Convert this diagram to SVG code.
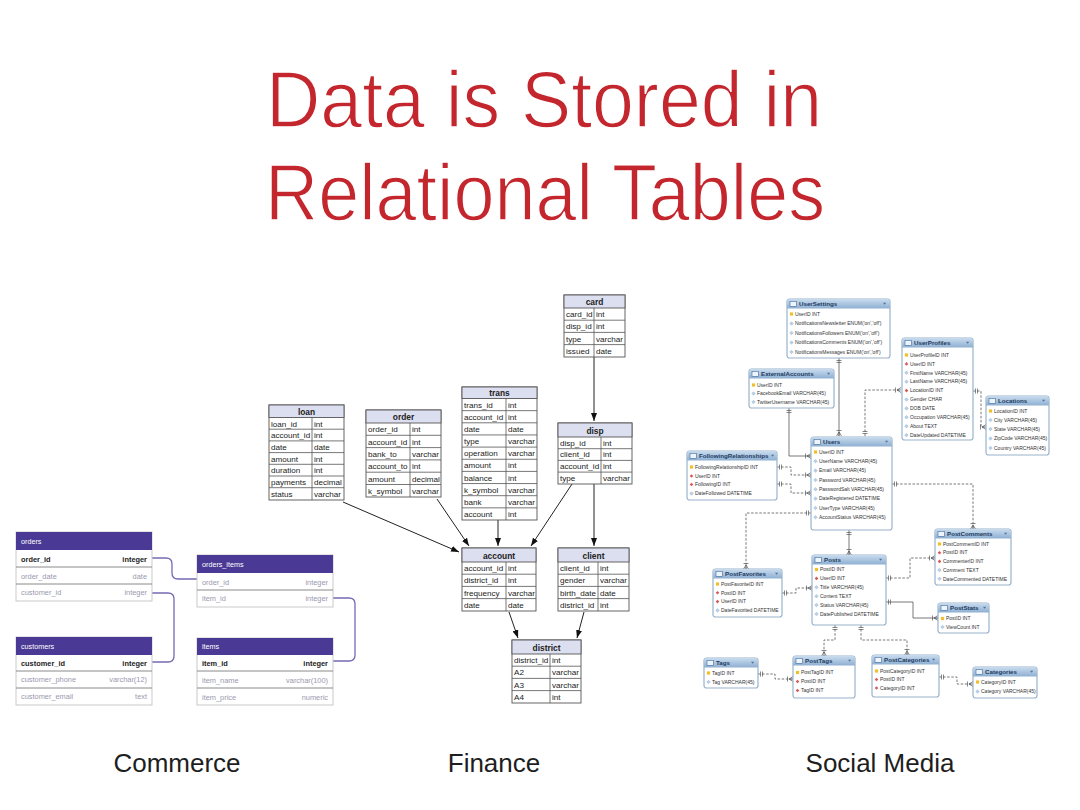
<svg xmlns="http://www.w3.org/2000/svg" xmlns:xlink="http://www.w3.org/1999/xlink" width="1080" height="810" viewBox="0 0 1080 810">
<style>
.title{font-family:"Liberation Sans",Arial,sans-serif;font-size:80px;fill:#c4262e;stroke:#fff;stroke-width:1.4px;}
.lbl{font-family:"Liberation Sans",Arial,sans-serif;font-size:26px;fill:#1e1e1e;text-anchor:middle;}
.ct{fill:#fff;stroke:#c9c9c9;stroke-width:1;}
.chd{fill:#4b3a95;}
.cht{font-family:"Liberation Sans",Arial,sans-serif;font-size:7.2px;fill:#fff;}
.csep{stroke:#7d7d7d;stroke-width:0.9;fill:none;}
.ck{font-family:"Liberation Sans",Arial,sans-serif;font-size:7.4px;fill:#222;font-weight:bold;}
.cn{font-family:"Liberation Sans",Arial,sans-serif;font-size:7.4px;fill:#9a98ae;}
.r{text-anchor:end;}
.clink{stroke:#7769b3;stroke-width:1.3;fill:none;}
.fo{fill:#fff;stroke:#555;stroke-width:0.9;}
.fh{fill:#dcdff0;stroke:#555;stroke-width:0.9;}
.fg{stroke:#555;stroke-width:0.8;fill:none;}
.ft{font-family:"Liberation Sans",Arial,sans-serif;font-size:8.1px;fill:#222;}
.fth{font-family:"Liberation Sans",Arial,sans-serif;font-size:8.4px;fill:#222;font-weight:bold;text-anchor:middle;}
.farrow{stroke:#222;stroke-width:1;fill:none;marker-end:url(#arr);}
.so{fill:#fff;stroke:#9ab3cc;stroke-width:1.2;}
.sh{fill:url(#sg);}
.st{font-family:"Liberation Sans",Arial,sans-serif;font-size:6.2px;font-weight:bold;fill:#1d3a60;}
.sr{font-family:"Liberation Sans",Arial,sans-serif;font-size:5px;fill:#333;}
.sl{stroke:#555;stroke-width:0.8;fill:none;marker-start:url(#one);marker-end:url(#crow);}
.sd{stroke-dasharray:2.5 1.6;}
</style>
<defs>
<linearGradient id="sg" x1="0" y1="0" x2="0" y2="1">
<stop offset="0" stop-color="#cadcee"/>
<stop offset="1" stop-color="#8eafd2"/>
</linearGradient>
<marker id="arr" viewBox="0 0 8 6" refX="8" refY="3" markerWidth="8" markerHeight="6" markerUnits="userSpaceOnUse" orient="auto">
<path d="M0,0 L8,3 L0,6 z" fill="#111"/>
</marker>
<marker id="one" viewBox="-1 -4 8 8" refX="0" refY="0" markerWidth="8" markerHeight="8" markerUnits="userSpaceOnUse" orient="auto">
<path d="M2.5,-2.5 V2.5 M4.5,-2.5 V2.5" stroke="#555" stroke-width="0.7" fill="none"/>
</marker>
<marker id="crow" viewBox="-8 -4 9 8" refX="0" refY="0" markerWidth="9" markerHeight="8" markerUnits="userSpaceOnUse" orient="auto">
<path d="M-4,0 L0,-2.5 M-4,0 L0,2.5 M-4,0 H0 M-5.5,-2.5 V2.5" stroke="#555" stroke-width="0.7" fill="none"/>
</marker>
<g id="pk"><path d="M-1.6,-1.6 h3.2 v3.2 h-3.2z" fill="#f0c02a"/></g>
<g id="fk"><path d="M0,-1.8 L1.8,0 L0,1.8 L-1.8,0z" fill="#d65a5a"/></g>
<g id="cl"><path d="M0,-1.8 L1.8,0 L0,1.8 L-1.8,0z" fill="#b7d2ec" stroke="#6b95c0" stroke-width="0.3"/></g>
<g id="ico"><rect x="0" y="0" width="6.5" height="5" fill="#eef4fb" stroke="#3f6c9c" stroke-width="0.6"/></g>
<path id="tri" d="M0,0 h3.2 l-1.6,2z" fill="#4f739a"/>
</defs>

<g id="title">
<text class="title" x="266" y="127" textLength="556" lengthAdjust="spacingAndGlyphs">Data is Stored in</text>
<text class="title" x="265" y="220" textLength="560" lengthAdjust="spacingAndGlyphs">Relational Tables</text>
</g>

<!-- Commerce -->
<g id="connectors-commerce">
<path class="clink" d="M152,558 H166 Q172,558 172,564 V573 Q172,579 178,579 H197"/>
<path class="clink" d="M152,593 H168 Q174,593 174,599 V656 Q174,662 168,662 H152"/>
<path class="clink" d="M333,598 H349 Q355,598 355,604 V655 Q355,661 349,661 H333"/>
</g>
<g id="orders" transform="translate(16,532)">
<rect class="ct" width="136" height="69"/>
<rect class="chd" width="136" height="18"/>
<text class="cht" x="5" y="11.5">orders</text>
<path class="csep" d="M0,35 H136 M0,52 H136"/>
<text class="ck" x="5" y="29.5">order_id</text><text class="ck r" x="131" y="29.5">integer</text>
<text class="cn" x="5" y="46.5">order_date</text><text class="cn r" x="131" y="46.5">date</text>
<text class="cn" x="5" y="63">customer_id</text><text class="cn r" x="131" y="63">integer</text>
</g>
<g id="customers" transform="translate(16,637)">
<rect class="ct" width="136" height="68"/>
<rect class="chd" width="136" height="18"/>
<text class="cht" x="5" y="11.5">customers</text>
<path class="csep" d="M0,34 H136 M0,51 H136"/>
<text class="ck" x="5" y="28.5">customer_id</text><text class="ck r" x="131" y="28.5">integer</text>
<text class="cn" x="5" y="45">customer_phone</text><text class="cn r" x="131" y="45">varchar(12)</text>
<text class="cn" x="5" y="62">customer_email</text><text class="cn r" x="131" y="62">text</text>
</g>
<g id="orders_items" transform="translate(197,555)">
<rect class="ct" width="136" height="52"/>
<rect class="chd" width="136" height="18"/>
<text class="cht" x="5" y="11.5">orders_items</text>
<path class="csep" d="M0,35 H136"/>
<text class="cn" x="5" y="29.5">order_id</text><text class="cn r" x="131" y="29.5">integer</text>
<text class="cn" x="5" y="46">item_id</text><text class="cn r" x="131" y="46">integer</text>
</g>
<g id="items" transform="translate(197,638)">
<rect class="ct" width="136" height="67"/>
<rect class="chd" width="136" height="17"/>
<text class="cht" x="5" y="11">items</text>
<path class="csep" d="M0,33 H136 M0,50 H136"/>
<text class="ck" x="5" y="28">item_id</text><text class="ck r" x="131" y="28">integer</text>
<text class="cn" x="5" y="44.5">item_name</text><text class="cn r" x="131" y="44.5">varchar(100)</text>
<text class="cn" x="5" y="61.5">item_price</text><text class="cn r" x="131" y="61.5">numeric</text>
</g>

<!-- Finance -->
<g id="connectors-finance">
<path class="farrow" d="M343,502 L459,552"/>
<path class="farrow" d="M437,499 L469,546"/>
<path class="farrow" d="M498,520 L498,546"/>
<path class="farrow" d="M572,484 L531,546"/>
<path class="farrow" d="M594,484 L594,546"/>
<path class="farrow" d="M594,357 L594,421"/>
<path class="farrow" d="M509,612 L518,638"/>
<path class="farrow" d="M584,612 L577,638"/>
</g>
<g id="loan" transform="translate(269,405)">
<rect class="fo" width="75" height="95"/>
<rect class="fh" width="75" height="12.5"/>
<text class="fth" x="37.5" y="9.5">loan</text>
<path class="fg" d="M0,24.2H75 M0,35.9H75 M0,47.6H75 M0,59.3H75 M0,71H75 M0,82.7H75 M43,12.5V95"/>
<text class="ft" x="2" y="21.5">loan_id</text><text class="ft" x="45" y="21.5">int</text>
<text class="ft" x="2" y="33.2">account_id</text><text class="ft" x="45" y="33.2">int</text>
<text class="ft" x="2" y="44.9">date</text><text class="ft" x="45" y="44.9">date</text>
<text class="ft" x="2" y="56.6">amount</text><text class="ft" x="45" y="56.6">int</text>
<text class="ft" x="2" y="68.3">duration</text><text class="ft" x="45" y="68.3">int</text>
<text class="ft" x="2" y="80">payments</text><text class="ft" x="45" y="80">decimal</text>
<text class="ft" x="2" y="91.7">status</text><text class="ft" x="45" y="91.7">varchar</text>
</g>
<g id="order" transform="translate(366,410)">
<rect class="fo" width="75" height="87"/>
<rect class="fh" width="75" height="13"/>
<text class="fth" x="37.5" y="10">order</text>
<path class="fg" d="M0,25.3H75 M0,37.6H75 M0,49.9H75 M0,62.2H75 M0,74.5H75 M44,13V87"/>
<text class="ft" x="2" y="22.3">order_id</text><text class="ft" x="46" y="22.3">int</text>
<text class="ft" x="2" y="34.6">account_id</text><text class="ft" x="46" y="34.6">int</text>
<text class="ft" x="2" y="46.9">bank_to</text><text class="ft" x="46" y="46.9">varchar</text>
<text class="ft" x="2" y="59.2">account_to</text><text class="ft" x="46" y="59.2">int</text>
<text class="ft" x="2" y="71.5">amount</text><text class="ft" x="46" y="71.5">decimal</text>
<text class="ft" x="2" y="83.8">k_symbol</text><text class="ft" x="46" y="83.8">varchar</text>
</g>
<g id="trans" transform="translate(462,387)">
<rect class="fo" width="75" height="133"/>
<rect class="fh" width="75" height="11.5"/>
<text class="fth" x="37.5" y="9">trans</text>
<path class="fg" d="M0,23.65H75 M0,35.8H75 M0,47.95H75 M0,60.1H75 M0,72.25H75 M0,84.4H75 M0,96.55H75 M0,108.7H75 M0,120.85H75 M44,11.5V133"/>
<text class="ft" x="2" y="20.6">trans_id</text><text class="ft" x="46" y="20.6">int</text>
<text class="ft" x="2" y="32.75">account_id</text><text class="ft" x="46" y="32.75">int</text>
<text class="ft" x="2" y="44.9">date</text><text class="ft" x="46" y="44.9">date</text>
<text class="ft" x="2" y="57.05">type</text><text class="ft" x="46" y="57.05">varchar</text>
<text class="ft" x="2" y="69.2">operation</text><text class="ft" x="46" y="69.2">varchar</text>
<text class="ft" x="2" y="81.35">amount</text><text class="ft" x="46" y="81.35">int</text>
<text class="ft" x="2" y="93.5">balance</text><text class="ft" x="46" y="93.5">int</text>
<text class="ft" x="2" y="105.65">k_symbol</text><text class="ft" x="46" y="105.65">varchar</text>
<text class="ft" x="2" y="117.8">bank</text><text class="ft" x="46" y="117.8">varchar</text>
<text class="ft" x="2" y="129.95">account</text><text class="ft" x="46" y="129.95">int</text>
</g>
<g id="card" transform="translate(564,295)">
<rect class="fo" width="61" height="62"/>
<rect class="fh" width="61" height="13"/>
<text class="fth" x="30.5" y="10">card</text>
<path class="fg" d="M0,25.2H61 M0,37.4H61 M0,49.6H61 M30,13V62"/>
<text class="ft" x="2" y="22.2">card_id</text><text class="ft" x="32" y="22.2">int</text>
<text class="ft" x="2" y="34.4">disp_id</text><text class="ft" x="32" y="34.4">int</text>
<text class="ft" x="2" y="46.6">type</text><text class="ft" x="32" y="46.6">varchar</text>
<text class="ft" x="2" y="58.8">issued</text><text class="ft" x="32" y="58.8">date</text>
</g>
<g id="disp" transform="translate(558,423)">
<rect class="fo" width="74" height="61"/>
<rect class="fh" width="74" height="14"/>
<text class="fth" x="37" y="10.5">disp</text>
<path class="fg" d="M0,25.7H74 M0,37.4H74 M0,49.1H74 M43,14V61"/>
<text class="ft" x="2" y="22.7">disp_id</text><text class="ft" x="45" y="22.7">int</text>
<text class="ft" x="2" y="34.4">client_id</text><text class="ft" x="45" y="34.4">int</text>
<text class="ft" x="2" y="46.1">account_id</text><text class="ft" x="45" y="46.1">int</text>
<text class="ft" x="2" y="57.8">type</text><text class="ft" x="45" y="57.8">varchar</text>
</g>
<g id="account" transform="translate(462,548)">
<rect class="fo" width="74" height="63"/>
<rect class="fh" width="74" height="14"/>
<text class="fth" x="37" y="10.5">account</text>
<path class="fg" d="M0,26.2H74 M0,38.4H74 M0,50.6H74 M44,14V63"/>
<text class="ft" x="2" y="23.2">account_id</text><text class="ft" x="46" y="23.2">int</text>
<text class="ft" x="2" y="35.4">district_id</text><text class="ft" x="46" y="35.4">int</text>
<text class="ft" x="2" y="47.6">frequency</text><text class="ft" x="46" y="47.6">varchar</text>
<text class="ft" x="2" y="59.8">date</text><text class="ft" x="46" y="59.8">date</text>
</g>
<g id="client" transform="translate(558,548)">
<rect class="fo" width="71" height="63"/>
<rect class="fh" width="71" height="14"/>
<text class="fth" x="35.5" y="10.5">client</text>
<path class="fg" d="M0,26.2H71 M0,38.4H71 M0,50.6H71 M40,14V63"/>
<text class="ft" x="2" y="23.2">client_id</text><text class="ft" x="42" y="23.2">int</text>
<text class="ft" x="2" y="35.4">gender</text><text class="ft" x="42" y="35.4">varchar</text>
<text class="ft" x="2" y="47.6">birth_date</text><text class="ft" x="42" y="47.6">date</text>
<text class="ft" x="2" y="59.8">district_id</text><text class="ft" x="42" y="59.8">int</text>
</g>
<g id="district" transform="translate(512,640)">
<rect class="fo" width="69" height="63"/>
<rect class="fh" width="69" height="14"/>
<text class="fth" x="34.5" y="10.5">district</text>
<path class="fg" d="M0,26.2H69 M0,38.4H69 M0,50.6H69 M38,14V63"/>
<text class="ft" x="2" y="23.2">district_id</text><text class="ft" x="40" y="23.2">int</text>
<text class="ft" x="2" y="35.4">A2</text><text class="ft" x="40" y="35.4">varchar</text>
<text class="ft" x="2" y="47.6">A3</text><text class="ft" x="40" y="47.6">varchar</text>
<text class="ft" x="2" y="59.8">A4</text><text class="ft" x="40" y="59.8">int</text>
</g>

<!-- Social Media -->
<g id="connectors-social">
<path class="sl" d="M839,358 V436"/>
<path class="sl sd" d="M865,436 V390 H901"/>
<path class="sl sd" d="M973,391 H981 V427 H986"/>
<path class="sl" d="M789,408 V456 H811"/>
<path class="sl sd" d="M777,467 H791 V475 H811"/>
<path class="sl sd" d="M777,484 H791 V493 H811"/>
<path class="sl sd" d="M811,513 H746 V569"/>
<path class="sl sd" d="M892,484 H973 V529"/>
<path class="sl" d="M849,530 V555"/>
<path class="sl sd" d="M886,578 H910 V558 H935"/>
<path class="sl sd" d="M782,593 H796 V588 H812"/>
<path class="sl" d="M886,602 H913 V618 H938"/>
<path class="sl sd" d="M835,625 V640 H824 V656"/>
<path class="sl sd" d="M861,625 V640 H907 V655"/>
<path class="sl sd" d="M758,674 H775 V679 H793"/>
<path class="sl sd" d="M939,677 H957 V684 H973"/>
</g>

<g id="UserSettings" transform="translate(787,299)">
<rect class="so" width="103" height="59" rx="2.5"/>
<path class="sh" d="M2.5,0 H100.5 A2.5,2.5 0 0 1 103,2.5 V9.5 H0 V2.5 A2.5,2.5 0 0 1 2.5,0z"/>
<use href="#ico" x="3" y="2.3"/><text class="st" x="12" y="7.2">UserSettings</text><use href="#tri" x="96" y="3.8"/>
<use href="#pk" x="4.5" y="15"/><text class="sr" x="8" y="16.7">UserID INT</text>
<use href="#cl" x="4.5" y="24.5"/><text class="sr" x="8" y="26.2">NotificationsNewsletter ENUM('on','off')</text>
<use href="#cl" x="4.5" y="34"/><text class="sr" x="8" y="35.7">NotificationsFollowers ENUM('on','off')</text>
<use href="#cl" x="4.5" y="43.5"/><text class="sr" x="8" y="45.2">NotificationsComments ENUM('on','off')</text>
<use href="#cl" x="4.5" y="53"/><text class="sr" x="8" y="54.7">NotificationsMessages ENUM('on','off')</text>
</g>
<g id="ExternalAccounts" transform="translate(749,369)">
<rect class="so" width="85" height="39" rx="2.5"/>
<path class="sh" d="M2.5,0 H82.5 A2.5,2.5 0 0 1 85,2.5 V9.5 H0 V2.5 A2.5,2.5 0 0 1 2.5,0z"/>
<use href="#ico" x="3" y="2.3"/><text class="st" x="12" y="7.2">ExternalAccounts</text><use href="#tri" x="78" y="3.8"/>
<use href="#pk" x="4.5" y="16"/><text class="sr" x="8" y="17.7">UserID INT</text>
<use href="#cl" x="4.5" y="24.5"/><text class="sr" x="8" y="26.2">FacebookEmail VARCHAR(45)</text>
<use href="#cl" x="4.5" y="33"/><text class="sr" x="8" y="34.7">TwitterUsername VARCHAR(45)</text>
</g>
<g id="UserProfiles" transform="translate(902,338)">
<rect class="so" width="71" height="102" rx="2.5"/>
<path class="sh" d="M2.5,0 H68.5 A2.5,2.5 0 0 1 71,2.5 V9.5 H0 V2.5 A2.5,2.5 0 0 1 2.5,0z"/>
<use href="#ico" x="3" y="2.3"/><text class="st" x="12" y="7.2">UserProfiles</text><use href="#tri" x="64" y="3.8"/>
<use href="#pk" x="4.5" y="17"/><text class="sr" x="8" y="18.7">UserProfileID INT</text>
<use href="#fk" x="4.5" y="25.9"/><text class="sr" x="8" y="27.6">UserID INT</text>
<use href="#cl" x="4.5" y="34.8"/><text class="sr" x="8" y="36.5">FirstName VARCHAR(45)</text>
<use href="#cl" x="4.5" y="43.7"/><text class="sr" x="8" y="45.4">LastName VARCHAR(45)</text>
<use href="#fk" x="4.5" y="52.6"/><text class="sr" x="8" y="54.3">LocationID INT</text>
<use href="#cl" x="4.5" y="61.5"/><text class="sr" x="8" y="63.2">Gender CHAR</text>
<use href="#cl" x="4.5" y="70.4"/><text class="sr" x="8" y="72.1">DOB DATE</text>
<use href="#cl" x="4.5" y="79.3"/><text class="sr" x="8" y="81">Occupation VARCHAR(45)</text>
<use href="#cl" x="4.5" y="88.2"/><text class="sr" x="8" y="89.9">About TEXT</text>
<use href="#cl" x="4.5" y="97.1"/><text class="sr" x="8" y="98.8">DateUpdated DATETIME</text>
</g>
<g id="Locations" transform="translate(986,396)">
<rect class="so" width="63" height="59" rx="2.5"/>
<path class="sh" d="M2.5,0 H60.5 A2.5,2.5 0 0 1 63,2.5 V9.5 H0 V2.5 A2.5,2.5 0 0 1 2.5,0z"/>
<use href="#ico" x="3" y="2.3"/><text class="st" x="12" y="7.2">Locations</text><use href="#tri" x="56" y="3.8"/>
<use href="#pk" x="4.5" y="15"/><text class="sr" x="8" y="16.7">LocationID INT</text>
<use href="#cl" x="4.5" y="24"/><text class="sr" x="8" y="25.7">City VARCHAR(45)</text>
<use href="#cl" x="4.5" y="33"/><text class="sr" x="8" y="34.7">State VARCHAR(45)</text>
<use href="#cl" x="4.5" y="42.5"/><text class="sr" x="8" y="44.2">ZipCode VARCHAR(45)</text>
<use href="#cl" x="4.5" y="52"/><text class="sr" x="8" y="53.7">Country VARCHAR(45)</text>
</g>
<g id="FollowingRelationships" transform="translate(687,451)">
<rect class="so" width="90" height="49" rx="2.5"/>
<path class="sh" d="M2.5,0 H87.5 A2.5,2.5 0 0 1 90,2.5 V9.5 H0 V2.5 A2.5,2.5 0 0 1 2.5,0z"/>
<use href="#ico" x="3" y="2.3"/><text class="st" x="12" y="7.2">FollowingRelationships</text><use href="#tri" x="84" y="3.8"/>
<use href="#pk" x="4.5" y="16"/><text class="sr" x="8" y="17.7">FollowingRelationshipID INT</text>
<use href="#fk" x="4.5" y="25"/><text class="sr" x="8" y="26.7">UserID INT</text>
<use href="#fk" x="4.5" y="33.5"/><text class="sr" x="8" y="35.2">FollowingID INT</text>
<use href="#cl" x="4.5" y="42.5"/><text class="sr" x="8" y="44.2">DateFollowed DATETIME</text>
</g>
<g id="Users" transform="translate(811,437)">
<rect class="so" width="81" height="93" rx="2.5"/>
<path class="sh" d="M2.5,0 H78.5 A2.5,2.5 0 0 1 81,2.5 V9.5 H0 V2.5 A2.5,2.5 0 0 1 2.5,0z"/>
<use href="#ico" x="3" y="2.3"/><text class="st" x="12" y="7.2">Users</text><use href="#tri" x="74" y="3.8"/>
<use href="#pk" x="4.5" y="15"/><text class="sr" x="8" y="16.7">UserID INT</text>
<use href="#cl" x="4.5" y="24.3"/><text class="sr" x="8" y="26">UserName VARCHAR(45)</text>
<use href="#cl" x="4.5" y="33.6"/><text class="sr" x="8" y="35.3">Email VARCHAR(45)</text>
<use href="#cl" x="4.5" y="43"/><text class="sr" x="8" y="44.7">Password VARCHAR(45)</text>
<use href="#cl" x="4.5" y="52.3"/><text class="sr" x="8" y="54">PasswordSalt VARCHAR(45)</text>
<use href="#cl" x="4.5" y="61.6"/><text class="sr" x="8" y="63.3">DateRegistered DATETIME</text>
<use href="#cl" x="4.5" y="71"/><text class="sr" x="8" y="72.7">UserType VARCHAR(45)</text>
<use href="#cl" x="4.5" y="80.3"/><text class="sr" x="8" y="82">AccountStatus VARCHAR(45)</text>
</g>
<g id="PostComments" transform="translate(935,529)">
<rect class="so" width="76" height="56" rx="2.5"/>
<path class="sh" d="M2.5,0 H73.5 A2.5,2.5 0 0 1 76,2.5 V9.5 H0 V2.5 A2.5,2.5 0 0 1 2.5,0z"/>
<use href="#ico" x="3" y="2.3"/><text class="st" x="12" y="7.2">PostComments</text><use href="#tri" x="69" y="3.8"/>
<use href="#pk" x="4.5" y="15"/><text class="sr" x="8" y="16.7">PostCommentID INT</text>
<use href="#fk" x="4.5" y="23.7"/><text class="sr" x="8" y="25.4">PostID INT</text>
<use href="#fk" x="4.5" y="32.4"/><text class="sr" x="8" y="34.1">CommenterID INT</text>
<use href="#cl" x="4.5" y="41.1"/><text class="sr" x="8" y="42.8">Comment TEXT</text>
<use href="#cl" x="4.5" y="49.8"/><text class="sr" x="8" y="51.5">DateCommented DATETIME</text>
</g>
<g id="Posts" transform="translate(812,555)">
<rect class="so" width="74" height="70" rx="2.5"/>
<path class="sh" d="M2.5,0 H71.5 A2.5,2.5 0 0 1 74,2.5 V9.5 H0 V2.5 A2.5,2.5 0 0 1 2.5,0z"/>
<use href="#ico" x="3" y="2.3"/><text class="st" x="12" y="7.2">Posts</text><use href="#tri" x="67" y="3.8"/>
<use href="#pk" x="4.5" y="14.5"/><text class="sr" x="8" y="16.2">PostID INT</text>
<use href="#fk" x="4.5" y="23.4"/><text class="sr" x="8" y="25.1">UserID INT</text>
<use href="#cl" x="4.5" y="32.3"/><text class="sr" x="8" y="34">Title VARCHAR(45)</text>
<use href="#cl" x="4.5" y="41.2"/><text class="sr" x="8" y="42.9">Content TEXT</text>
<use href="#cl" x="4.5" y="50.1"/><text class="sr" x="8" y="51.8">Status VARCHAR(45)</text>
<use href="#cl" x="4.5" y="59"/><text class="sr" x="8" y="60.7">DatePublished DATETIME</text>
</g>
<g id="PostFavorites" transform="translate(713,569)">
<rect class="so" width="69" height="48" rx="2.5"/>
<path class="sh" d="M2.5,0 H66.5 A2.5,2.5 0 0 1 69,2.5 V9.5 H0 V2.5 A2.5,2.5 0 0 1 2.5,0z"/>
<use href="#ico" x="3" y="2.3"/><text class="st" x="12" y="7.2">PostFavorites</text><use href="#tri" x="62" y="3.8"/>
<use href="#pk" x="4.5" y="15"/><text class="sr" x="8" y="16.7">PostFavoriteID INT</text>
<use href="#fk" x="4.5" y="23.8"/><text class="sr" x="8" y="25.5">PostID INT</text>
<use href="#fk" x="4.5" y="32.6"/><text class="sr" x="8" y="34.3">UserID INT</text>
<use href="#cl" x="4.5" y="41.4"/><text class="sr" x="8" y="43.1">DateFavorited DATETIME</text>
</g>
<g id="PostStats" transform="translate(938,603)">
<rect class="so" width="51" height="30" rx="2.5"/>
<path class="sh" d="M2.5,0 H48.5 A2.5,2.5 0 0 1 51,2.5 V9.5 H0 V2.5 A2.5,2.5 0 0 1 2.5,0z"/>
<use href="#ico" x="3" y="2.3"/><text class="st" x="12" y="7.2">PostStats</text><use href="#tri" x="45" y="3.8"/>
<use href="#pk" x="4.5" y="15.5"/><text class="sr" x="8" y="17.2">PostID INT</text>
<use href="#cl" x="4.5" y="24"/><text class="sr" x="8" y="25.7">ViewCount INT</text>
</g>
<g id="Tags" transform="translate(704,658)">
<rect class="so" width="54" height="30" rx="2.5"/>
<path class="sh" d="M2.5,0 H51.5 A2.5,2.5 0 0 1 54,2.5 V9.5 H0 V2.5 A2.5,2.5 0 0 1 2.5,0z"/>
<use href="#ico" x="3" y="2.3"/><text class="st" x="12" y="7.2">Tags</text><use href="#tri" x="47" y="3.8"/>
<use href="#pk" x="4.5" y="15"/><text class="sr" x="8" y="16.7">TagID INT</text>
<use href="#cl" x="4.5" y="24"/><text class="sr" x="8" y="25.7">Tag VARCHAR(45)</text>
</g>
<g id="PostTags" transform="translate(793,656)">
<rect class="so" width="62" height="42" rx="2.5"/>
<path class="sh" d="M2.5,0 H59.5 A2.5,2.5 0 0 1 62,2.5 V9.5 H0 V2.5 A2.5,2.5 0 0 1 2.5,0z"/>
<use href="#ico" x="3" y="2.3"/><text class="st" x="12" y="7.2">PostTags</text><use href="#tri" x="55" y="3.8"/>
<use href="#pk" x="4.5" y="16.5"/><text class="sr" x="8" y="18.2">PostTagID INT</text>
<use href="#fk" x="4.5" y="25.5"/><text class="sr" x="8" y="27.2">PostID INT</text>
<use href="#fk" x="4.5" y="34.5"/><text class="sr" x="8" y="36.2">TagID INT</text>
</g>
<g id="PostCategories" transform="translate(872,655)">
<rect class="so" width="67" height="42" rx="2.5"/>
<path class="sh" d="M2.5,0 H64.5 A2.5,2.5 0 0 1 67,2.5 V9.5 H0 V2.5 A2.5,2.5 0 0 1 2.5,0z"/>
<use href="#ico" x="3" y="2.3"/><text class="st" x="12" y="7.2">PostCategories</text><use href="#tri" x="60" y="3.8"/>
<use href="#pk" x="4.5" y="16"/><text class="sr" x="8" y="17.7">PostCategoryID INT</text>
<use href="#fk" x="4.5" y="24.5"/><text class="sr" x="8" y="26.2">PostID INT</text>
<use href="#fk" x="4.5" y="33"/><text class="sr" x="8" y="34.7">CategoryID INT</text>
</g>
<g id="Categories" transform="translate(973,667)">
<rect class="so" width="64" height="31" rx="2.5"/>
<path class="sh" d="M2.5,0 H61.5 A2.5,2.5 0 0 1 64,2.5 V9.5 H0 V2.5 A2.5,2.5 0 0 1 2.5,0z"/>
<use href="#ico" x="3" y="2.3"/><text class="st" x="12" y="7.2">Categories</text><use href="#tri" x="57" y="3.8"/>
<use href="#pk" x="4.5" y="15"/><text class="sr" x="8" y="16.7">CategoryID INT</text>
<use href="#cl" x="4.5" y="24.5"/><text class="sr" x="8" y="26.2">Category VARCHAR(45)</text>
</g>

<g id="labels">
<text class="lbl" x="177" y="772">Commerce</text>
<text class="lbl" x="494" y="772">Finance</text>
<text class="lbl" x="880" y="772">Social Media</text>
</g>
</svg>
